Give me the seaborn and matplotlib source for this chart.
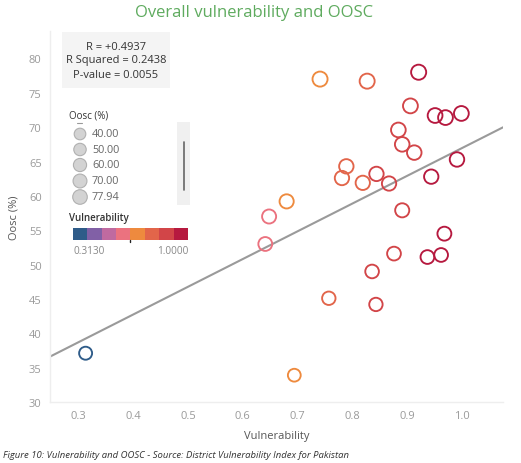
import numpy as np
import pandas as pd
import matplotlib
matplotlib.use("Agg")
import matplotlib.pyplot as plt
import matplotlib.colors as mcolors
import seaborn as sns

# ---------------- data ----------------
vulnerability = [0.741, 0.827, 0.921, 0.906, 0.951, 0.970, 0.999, 0.884, 0.891, 0.913,
                 0.991, 0.789, 0.781, 0.819, 0.844, 0.867, 0.944, 0.680, 0.891, 0.648,
                 0.968, 0.641, 0.876, 0.937, 0.962, 0.836, 0.757, 0.843, 0.313, 0.694]
oosc = [77.0, 76.7, 78.0, 73.1, 71.7, 71.4, 72.0, 69.6, 67.5, 66.3,
        65.3, 64.3, 62.6, 61.9, 63.2, 61.8, 62.8, 59.2, 57.9, 57.0,
        54.5, 53.0, 51.6, 51.1, 51.4, 49.0, 45.1, 44.2, 37.1, 33.9]
x_ticks = [0.3, 0.4, 0.5, 0.6, 0.7, 0.8, 0.9, 1.0]
y_ticks = [30, 35, 40, 45, 50, 55, 60, 65, 70, 75, 80]
stats_lines = ["R = +0.4937", "R Squared = 0.2438", "P-value = 0.0055"]
size_legend_labels = ["40.00", "50.00", "60.00", "70.00", "77.94"]
color_range_labels = ["0.3130", "1.0000"]
step_colors = ["#2f5c89", "#8160a6", "#c06aa0", "#eb727f", "#ee8a3e", "#e2654a", "#d24548", "#b6193f"]

df = pd.DataFrame({"Vulnerability": vulnerability, "Oosc (%)": oosc})

# ---------------- style ----------------
sns.set_theme(style="white")
plt.rcParams["font.family"] = ["Open Sans", "DejaVu Sans"]

W, H = 521, 464
fig = plt.figure(figsize=(W / 100, H / 100), dpi=100)
ax = fig.add_axes([50 / W, 1 - 403 / H, (503 - 50) / W, (403 - 32) / H])

cmap = mcolors.ListedColormap(step_colors)
norm = mcolors.BoundaryNorm(np.linspace(0.313, 1.0, 9), ncolors=8, clip=True)

ax.set_xlim(0.248, 1.075)
ax.set_ylim(30, 84)

sns.regplot(data=df, x="Vulnerability", y="Oosc (%)", ax=ax, scatter=False,
            ci=None, truncate=False, color="#9a9a9a", line_kws={"linewidth": 1.5})

sns.scatterplot(data=df, x="Vulnerability", y="Oosc (%)", hue="Vulnerability",
                palette=cmap, hue_norm=norm, size="Oosc (%)", sizes=(85, 118),
                ax=ax, legend=False, linewidth=1.35, zorder=3)
for coll in ax.collections:
    fc = coll.get_facecolors()
    if len(fc):
        coll.set_edgecolors(fc)
        coll.set_facecolors("none")

ax.set_xlim(0.248, 1.075)
ax.set_ylim(30, 84)
ax.set_xticks(x_ticks)
ax.set_xticklabels([f"{t:.1f}" for t in x_ticks])
ax.set_yticks(y_ticks)
ax.set_yticklabels([str(t) for t in y_ticks])
ax.tick_params(axis="both", colors="#9a9a9a", labelsize=8, length=0, pad=6)
ax.tick_params(axis="y", pad=6)
for s in ["top", "right"]:
    ax.spines[s].set_visible(False)
for s in ["left", "bottom"]:
    ax.spines[s].set_color("#eeeeee")
    ax.spines[s].set_linewidth(1.0)
ax.set_xlabel("Vulnerability", color="#555555", fontsize=8, labelpad=6)
ax.set_ylabel("Oosc (%)", color="#555555", fontsize=8, labelpad=7)

# ---------------- overlay (title, legends, caption) ----------------
ov = fig.add_axes([0, 0, 1, 1], zorder=5)
ov.set_xlim(0, W)
ov.set_ylim(H, 0)
ov.axis("off")
ov.patch.set_alpha(0)

ov.text(254, 13, "Overall vulnerability and OOSC", color="#5fab5f", fontsize=12,
        ha="center", va="center")

# stats box
ov.add_patch(plt.Rectangle((62, 33), 108, 56, facecolor="#f4f4f4", edgecolor="none"))
for i, line in enumerate(stats_lines):
    ov.text(116, 47 + i * 14, line, color="#333333", fontsize=8, ha="center", va="center")

# size legend
ov.text(69, 116, "Oosc (%)", color="#333333", fontsize=7, ha="left", va="center")
ov.plot([77, 82], [124, 124], color="#999999", lw=0.8)
yy = [135, 150.5, 166, 182, 198]
ss = [70, 80, 90, 100, 110]
ov.scatter([80] * 5, yy, s=ss, facecolor="#d3d3d3", edgecolor="#b0b0b0", linewidth=0.8)
for y, lab in zip(yy, size_legend_labels):
    ov.text(92, y, lab, color="#666666", fontsize=7.8, ha="left", va="center")
ov.add_patch(plt.Rectangle((177, 123), 13, 83, facecolor="#f0f0f0", edgecolor="none"))
ov.plot([183.5, 183.5], [143, 191], color="#666666", lw=1.2)

# colour legend
ov.text(69, 219, "Vulnerability", color="#333333", fontsize=7, ha="left", va="center",
        fontweight="semibold")
ov.imshow(np.arange(8).reshape(1, 8), cmap=cmap, norm=mcolors.NoNorm(),
          extent=(73, 188, 241, 229), aspect="auto")
ov.plot([130, 130], [241, 243], color="#222222", lw=1)
ov.text(73, 252, color_range_labels[0], color="#888888", fontsize=7.2, ha="left", va="center")
ov.text(188, 252, color_range_labels[1], color="#888888", fontsize=7.2, ha="right", va="center")
ov.set_xlim(0, W)
ov.set_ylim(H, 0)

ov.text(3, 456, "Figure 10: Vulnerability and OOSC - Source: District Vulnerability Index for Pakistan",
        color="#333333", fontsize=6.8, style="italic", ha="left", va="center")

fig.savefig("out.png", dpi=100)
